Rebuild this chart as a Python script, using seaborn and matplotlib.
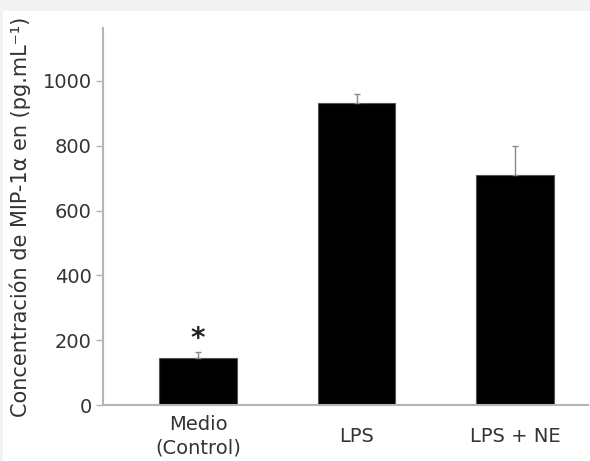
import matplotlib
matplotlib.use('Agg')
import matplotlib.pyplot as plt
import seaborn as sns
import pandas as pd
from matplotlib.patches import Rectangle

# Datos del gráfico
grupos = ['Medio\n(Control)', 'LPS', 'LPS + NE']
concentracion = [146, 931, 710]
error_sup = [17, 29, 89]
marca = ['*', '', '']

df = pd.DataFrame({'grupo': grupos, 'conc': concentracion})

sns.set_style('white')
plt.rcParams['font.family'] = ['DejaVu Sans']

fig = plt.figure(figsize=(5.9, 4.61), dpi=100)
fig.patch.set_facecolor('#f2f2f2')
# panel blanco
fig.patches.append(Rectangle((3 / 590, 0), 1, 1 - 11 / 461, transform=fig.transFigure,
                             facecolor='white', edgecolor='none', zorder=-10))

ax = fig.add_axes([103 / 590, 56 / 461, 485 / 590, 377 / 461])
ax.set_facecolor('none')

sns.barplot(data=df, x='grupo', y='conc', color='black', width=0.49,
            edgecolor='#555555', linewidth=0.8, ax=ax, errorbar=None)

# barras de error (solo hacia arriba)
ax.errorbar(range(len(grupos)), concentracion, yerr=[[0] * 3, error_sup], fmt='none',
            ecolor='#888888', elinewidth=1, capsize=2, capthick=1, zorder=1)

for i, m in enumerate(marca):
    if m:
        ax.text(i, concentracion[i] + error_sup[i] + 40, m, ha='center', va='center',
                fontsize=20, fontweight='bold', color='#222222')

ax.set_xlim(-0.6, 2.46)
ax.set_ylim(0, 1163)
ax.set_yticks([0, 200, 400, 600, 800, 1000])

for s in ['top', 'right']:
    ax.spines[s].set_visible(False)
for s in ['left', 'bottom']:
    ax.spines[s].set_color('#b5b5b5')
    ax.spines[s].set_linewidth(1.5)

ax.tick_params(axis='y', left=True, length=5, width=1, color='#b5b5b5',
               labelsize=14, labelcolor='#333333', pad=3)
ax.tick_params(axis='x', bottom=False, labelsize=14, labelcolor='#333333', pad=19)
for lab in ax.get_xticklabels():
    lab.set_va('center')
    lab.set_linespacing(1.25)

ax.set_xlabel('')
ax.set_ylabel('Concentración de MIP-1α en (pg.mL⁻¹)', fontsize=15, color='#333333')
ax.yaxis.set_label_coords(-72 / 485, 0.5)

fig.savefig('out.png', dpi=100, facecolor=fig.get_facecolor())
